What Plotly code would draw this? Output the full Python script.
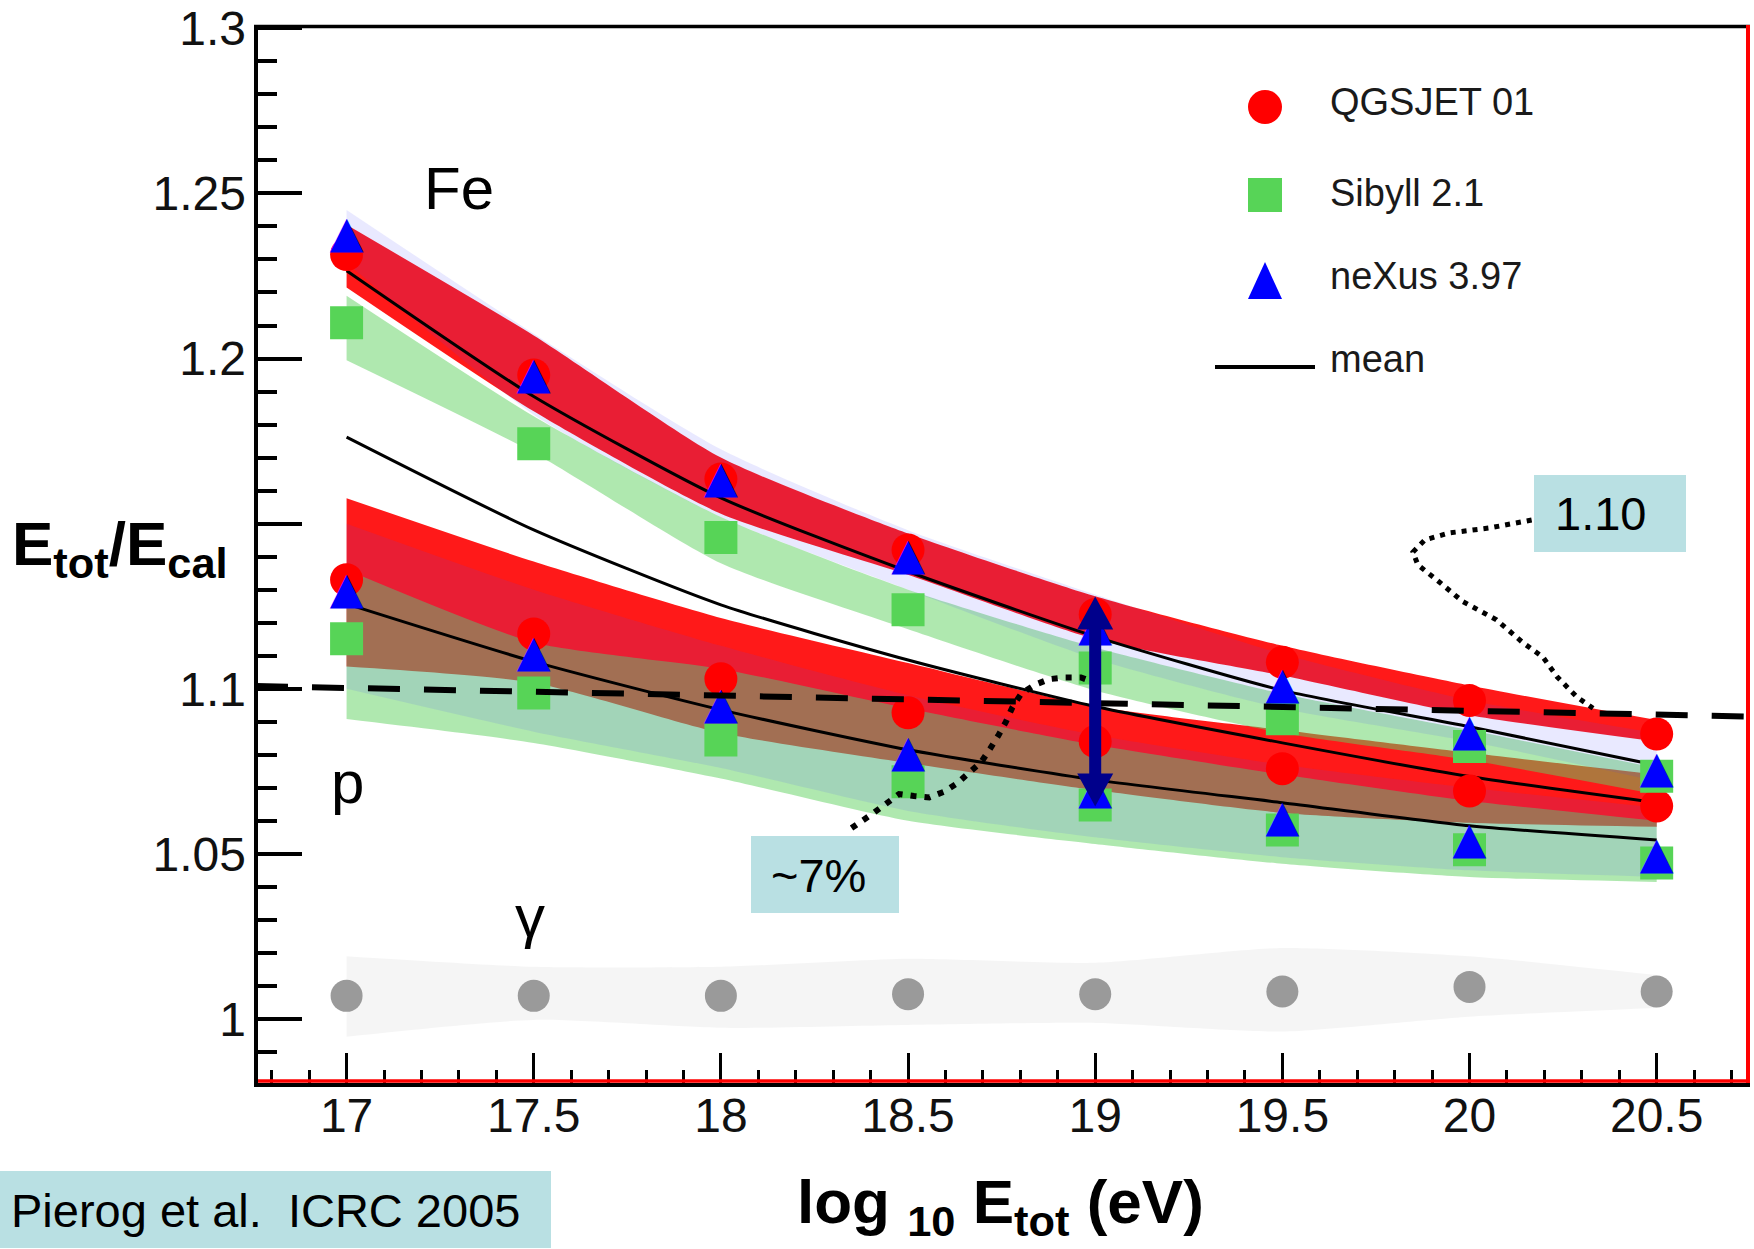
import plotly.graph_objects as go

# ---------------------------------------------------------------------------
# Data: E_tot / E_cal versus log10(E_tot / eV)
# ---------------------------------------------------------------------------
log_e = [17.0, 17.5, 18.0, 18.5, 19.0, 19.5, 20.0, 20.5]

x_tick_vals = [17.0, 17.5, 18.0, 18.5, 19.0, 19.5, 20.0, 20.5]
x_tick_text = ["17", "17.5", "18", "18.5", "19", "19.5", "20", "20.5"]
y_tick_vals = [1.0, 1.05, 1.1, 1.15, 1.2, 1.25, 1.3]
y_tick_text = ["1", "1.05", "1.1", "", "1.2", "1.25", "1.3"]

# Iron primaries
fe_qgsjet = [1.2315, 1.1950, 1.1635, 1.1420, 1.1225, 1.1080, 1.0964, 1.0863]
fe_sibyll = [1.2108, 1.1742, 1.1458, 1.1239, 1.1063, 1.0909, 1.0825, 1.0735]
fe_nexus = [1.2371, 1.1944, 1.1629, 1.1396, 1.1182, 1.1006, 1.0863, 1.0750]
fe_mean = [1.2266, 1.1885, 1.1578, 1.1355, 1.1158, 1.0995, 1.0885, 1.0768]

fe_qgsjet_hi = [1.2405, 1.2070, 1.1700, 1.1470, 1.1280, 1.1130, 1.1010, 1.0905]
fe_qgsjet_lo = [1.2215, 1.1840, 1.1530, 1.1345, 1.1150, 1.1040, 1.0920, 1.0840]
fe_sibyll_hi = [1.2190, 1.1825, 1.1520, 1.1300, 1.1125, 1.0985, 1.0875, 1.0760]
fe_sibyll_lo = [1.1995, 1.1715, 1.1380, 1.1180, 1.0995, 1.0866, 1.0784, 1.0680]
fe_nexus_hi = [1.2450, 1.2075, 1.1725, 1.1480, 1.1285, 1.1105, 1.0965, 1.0865]
fe_nexus_lo = [1.2290, 1.1830, 1.1520, 1.1300, 1.1090, 1.0940, 1.0840, 1.0720]

# Proton primaries
p_qgsjet = [1.1330, 1.1166, 1.1030, 1.0927, 1.0840, 1.0758, 1.0690, 1.0645]
p_sibyll = [1.1151, 1.0987, 1.0845, 1.0718, 1.0648, 1.0572, 1.0512, 1.0472]
p_nexus = [1.1294, 1.1102, 1.0945, 1.0800, 1.0688, 1.0603, 1.0535, 1.0490]
p_mean = [1.1257, 1.1082, 1.0936, 1.0815, 1.0724, 1.0655, 1.0585, 1.0542]

p_qgsjet_hi = [1.1577, 1.1385, 1.1214, 1.1078, 1.0946, 1.0875, 1.0806, 1.0740]
p_qgsjet_lo = [1.1067, 1.1018, 1.0866, 1.0775, 1.0693, 1.0624, 1.0594, 1.0582]
p_sibyll_hi = [1.1360, 1.1140, 1.1060, 1.0940, 1.0830, 1.0740, 1.0660, 1.0600]
p_sibyll_lo = [1.0908, 1.0836, 1.0728, 1.0600, 1.0530, 1.0470, 1.0430, 1.0415]
p_nexus_hi = [1.1500, 1.1300, 1.1130, 1.0980, 1.0860, 1.0770, 1.0700, 1.0640]
p_nexus_lo = [1.1000, 1.0870, 1.0760, 1.0630, 1.0550, 1.0490, 1.0450, 1.0430]

# Mean between proton and iron
mixed_mean = [1.1762, 1.1481, 1.1254, 1.1087, 1.0946, 1.0836, 1.0734, 1.0655]

# Photon primaries
gamma = [1.0070, 1.0070, 1.0070, 1.0075, 1.0075, 1.0083, 1.0097, 1.0083]
gamma_hi = [1.0190, 1.0158, 1.0158, 1.0182, 1.0170, 1.0215, 1.0190, 1.0133]
gamma_lo = [0.9946, 0.9997, 0.9973, 0.9982, 0.9988, 0.9962, 1.0007, 1.0033]

# "1.10" reference line and the ~7% arrow (data coordinates)
ref_line_y = [1.1008, 1.0916]
arrow_x, arrow_y = 19.0, 1.0961

# Hand-drawn dotted callout curves (data coordinates)
callout_110_x = [20.166, 20.054, 19.947, 19.881, 19.849, 19.862, 19.912, 19.982,
                 20.072, 20.143, 20.196, 20.234, 20.287, 20.330]
callout_110_y = [1.1511, 1.1487, 1.1472, 1.1451, 1.1414, 1.1375, 1.1330, 1.1264,
                 1.1209, 1.1139, 1.1096, 1.1036, 1.0975, 1.0941]
callout_7_x = [18.349, 18.407, 18.476, 18.516, 18.557, 18.596, 18.632, 18.663, 18.695,
               18.719, 18.741, 18.761, 18.779, 18.803, 18.839, 18.877, 18.919, 18.962, 19.002]
callout_7_y = [1.0578, 1.0623, 1.0681, 1.0675, 1.0671, 1.0688, 1.0714, 1.0746, 1.0777,
               1.0818, 1.0858, 1.0899, 1.0944, 1.0986, 1.1012, 1.1029, 1.1034, 1.1034, 1.1017]

# ---------------------------------------------------------------------------
# Page geometry (pixels) and helpers to place decorations in paper units
# ---------------------------------------------------------------------------
FIG_W, FIG_H = 1754, 1249
PL, PR, PT, PB = 256, 1748, 26, 1083
PW, PH = PR - PL, PB - PT


def fx(p):
    return (p - PL) / PW


def fy(p):
    return (PB - p) / PH


FONT = "Liberation Sans, Arial, Helvetica, sans-serif"
RED, GREEN, BLUE, GREY = "#ff0000", "#57d457", "#0000ff", "#9a9a9a"
TEAL = "#b9e0e3"

fig = go.Figure()


def add_band(lo, hi, color):
    fig.add_trace(go.Scatter(x=log_e, y=lo, mode="lines", hoverinfo="skip",
                             line=dict(width=0, shape="spline", smoothing=0.6)))
    fig.add_trace(go.Scatter(x=log_e, y=hi, mode="lines", hoverinfo="skip",
                             line=dict(width=0, shape="spline", smoothing=0.6),
                             fill="tonexty", fillcolor=color))


# spread bands: QGSJET first, Sibyll blended over it, neXus lightly on top
add_band(fe_qgsjet_lo, fe_qgsjet_hi, "rgba(255,0,0,0.9)")
add_band(p_qgsjet_lo, p_qgsjet_hi, "rgba(255,0,0,0.9)")
add_band(fe_sibyll_lo, fe_sibyll_hi, "rgba(95,210,95,0.5)")
add_band(p_sibyll_lo, p_sibyll_hi, "rgba(95,210,95,0.5)")
add_band(fe_nexus_lo, fe_nexus_hi, "rgba(70,70,255,0.12)")
add_band(p_nexus_lo, p_nexus_hi, "rgba(70,70,255,0.12)")
add_band(gamma_lo, gamma_hi, "rgba(0,0,0,0.04)")

# mean curves
for curve in (fe_mean, mixed_mean, p_mean):
    fig.add_trace(go.Scatter(x=log_e, y=curve, mode="lines", hoverinfo="skip",
                             line=dict(color="black", width=3, shape="spline", smoothing=0.6)))

# model points
for series in (fe_qgsjet, p_qgsjet):
    fig.add_trace(go.Scatter(x=log_e, y=series, mode="markers",
                             marker=dict(symbol="circle", size=33, color=RED, line=dict(width=0))))
for series in (fe_sibyll, p_sibyll):
    fig.add_trace(go.Scatter(x=log_e, y=series, mode="markers",
                             marker=dict(symbol="square", size=33, color=GREEN, line=dict(width=0))))
for series in (fe_nexus, p_nexus):
    fig.add_trace(go.Scatter(x=log_e, y=series, mode="text", text=["\u25B2"] * len(log_e),
                             textposition="middle center",
                             textfont=dict(family="DejaVu Sans", size=44, color=BLUE)))
fig.add_trace(go.Scatter(x=log_e, y=gamma, mode="markers",
                         marker=dict(symbol="circle", size=32, color=GREY, line=dict(width=0))))

# ---------------------------------------------------------------------------
# Shapes: frame, reference line, callouts, arrow, boxes, legend keys
# ---------------------------------------------------------------------------
shapes = []


def hline(y_px, x0_px, x1_px, color, width):
    shapes.append(dict(type="line", xref="paper", yref="paper", x0=fx(x0_px), x1=fx(x1_px),
                       y0=fy(y_px), y1=fy(y_px), line=dict(color=color, width=width), layer="above"))


def vline(x_px, y0_px, y1_px, color, width):
    shapes.append(dict(type="line", xref="paper", yref="paper", x0=fx(x_px), x1=fx(x_px),
                       y0=fy(y0_px), y1=fy(y1_px), line=dict(color=color, width=width), layer="above"))


def rect(x0, y0, x1, y1, color):
    shapes.append(dict(type="rect", xref="paper", yref="paper", x0=fx(x0), x1=fx(x1),
                       y0=fy(y1), y1=fy(y0), fillcolor=color, line=dict(width=0), layer="above"))


# frame
vline(256, 1087, 25, "black", 4)
hline(26.5, 254, 1750, "black", 3.5)
hline(1085, 254, 1750, "black", 4)
hline(1081, 258, 1746, RED, 3.5)
vline(1748, 1083, 25, RED, 4)

# 1.10 reference line
shapes.append(dict(type="line", xref="paper", yref="y", x0=0, x1=1,
                   y0=ref_line_y[0], y1=ref_line_y[1],
                   line=dict(color="black", width=6, dash="32px,24px"), layer="above"))


def dotted_path(xs, ys, width, dash):
    path = "M" + " L".join(f"{a},{b}" for a, b in zip(xs, ys))
    shapes.append(dict(type="path", xref="x", yref="y", path=path,
                       line=dict(color="black", width=width, dash=dash), layer="above"))


dotted_path(callout_110_x, callout_110_y, 5, "5px,6px")
dotted_path(callout_7_x, callout_7_y, 6, "6px,8px")

# double-headed arrow marking the ~7% spread
shapes.append(dict(type="path", xref="x", yref="y", xsizemode="pixel", ysizemode="pixel",
                   xanchor=arrow_x, yanchor=arrow_y,
                   path=("M0,105 L18,72 L6,72 L6,-72 L18,-72 L0,-105 "
                         "L-18,-72 L-6,-72 L-6,72 L-18,72 Z"),
                   fillcolor="#00008b", line=dict(width=0), layer="above"))

# label boxes
rect(1534, 475, 1686, 552, TEAL)
rect(751, 836, 899, 913, TEAL)
rect(0, 1171, 551, 1248, TEAL)

# legend keys
shapes.append(dict(type="circle", xref="paper", yref="paper", x0=fx(1248), x1=fx(1282),
                   y0=fy(124), y1=fy(90), fillcolor=RED, line=dict(width=0), layer="above"))
rect(1248, 178, 1282, 212, GREEN)
shapes.append(dict(type="path", xref="paper", yref="paper",
                   path=f"M{fx(1248)},{fy(299)} L{fx(1282)},{fy(299)} L{fx(1265)},{fy(262)} Z",
                   fillcolor=BLUE, line=dict(width=0), layer="above"))
hline(367, 1215, 1315, "black", 4)

# ---------------------------------------------------------------------------
# Text
# ---------------------------------------------------------------------------
annotations = []


def label(text, x_px, y_px, size, xanchor="center", bold=False, color="black"):
    annotations.append(dict(text=f"<b>{text}</b>" if bold else text, xref="paper", yref="paper",
                            x=fx(x_px), y=fy(y_px), xanchor=xanchor, yanchor="middle",
                            showarrow=False, font=dict(family=FONT, size=size, color=color)))


label("Fe", 459, 189, 60)
label("p", 347, 782, 60)
label("\u03b3", 530, 916, 60)

label("QGSJET 01", 1328, 102, 38, xanchor="left", color="#1a1a1a")
label("Sibyll 2.1", 1328, 193, 38, xanchor="left", color="#1a1a1a")
label("neXus 3.97", 1328, 276, 38, xanchor="left", color="#1a1a1a")
label("mean", 1328, 359, 38, xanchor="left", color="#1a1a1a")

label("1.10", 1600, 513, 47)
label("~7%", 818, 875, 47)
label("Pierog et al.  ICRC 2005", 9, 1210, 47, xanchor="left")

label("log <sub>10</sub> E<sub>tot</sub> (eV)", 1000, 1206, 62, bold=True)
label("E<sub>tot</sub>/E<sub>cal</sub>", 120, 548, 62, bold=True)

fig.update_layout(
    width=FIG_W, height=FIG_H,
    margin=dict(l=PL, r=FIG_W - PR, t=PT, b=FIG_H - PB, autoexpand=False),
    paper_bgcolor="white", plot_bgcolor="white",
    showlegend=False,
    shapes=shapes, annotations=annotations,
    xaxis=dict(range=[16.758, 20.744], tickmode="array", tickvals=x_tick_vals, ticktext=x_tick_text,
               ticks="inside", ticklen=30, tickwidth=3, tickcolor="black",
               minor=dict(tick0=17, dtick=0.1, ticks="inside", ticklen=13, tickwidth=3,
                          tickcolor="black", showgrid=False),
               showgrid=False, zeroline=False, showline=False, automargin=False,
               tickfont=dict(family=FONT, size=48, color="#111")),
    yaxis=dict(range=[0.9806, 1.3007], tickmode="array", tickvals=y_tick_vals, ticktext=y_tick_text,
               ticks="inside", ticklen=46, tickwidth=4, tickcolor="black",
               minor=dict(tick0=1.0, dtick=0.01, ticks="inside", ticklen=21, tickwidth=4,
                          tickcolor="black", showgrid=False),
               showgrid=False, zeroline=False, showline=False, automargin=False,
               ticklabelstandoff=9,
               tickfont=dict(family=FONT, size=48, color="#111")),
)

fig.write_html("out.html")
